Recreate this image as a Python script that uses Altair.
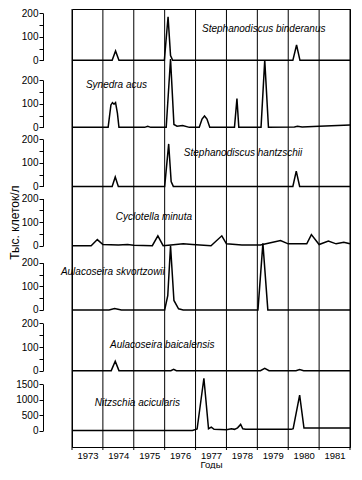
import altair as alt
import pandas as pd

FONT = "Liberation Sans"

# Year boundaries (x grid) and labelled years
YEARS = list(range(1973, 1983))
LABEL_YEARS = list(range(1973, 1982))

# --- Series (years, values in thousand cells / l) ---
binderanus_t = [1973.0, 1974.3, 1974.41, 1974.52, 1975.99, 1976.11, 1976.19, 1976.26, 1980.15, 1980.27, 1980.38, 1982.0]
binderanus_v = [0, 0, 40, 0, 0, 185, 20, 0, 0, 65, 0, 0]

synedra_t = [1973.0, 1974.17, 1974.26, 1974.31, 1974.36, 1974.41, 1974.47, 1974.52, 1975.35, 1975.45, 1975.55,
             1976.05, 1976.19, 1976.3, 1976.4, 1976.58, 1976.8, 1977.12, 1977.21, 1977.29, 1977.37, 1977.46,
             1978.26, 1978.34, 1978.4, 1979.12, 1979.24, 1979.36, 1980.2, 1980.3, 1980.45, 1981.0, 1982.0]
synedra_v = [0, 0, 95, 105, 98, 105, 60, 0, 0, 5, 0,
             0, 290, 12, 5, 8, 0, 0, 35, 48, 35, 0,
             0, 122, 0, 0, 285, 0, 2, 5, 2, 5, 10]

hantzschii_t = [1973.0, 1974.3, 1974.4, 1974.5, 1976.0, 1976.13, 1976.21, 1976.28, 1980.15, 1980.26, 1980.37, 1982.0]
hantzschii_v = [0, 0, 40, 0, 0, 180, 20, 0, 0, 65, 0, 0]

cyclotella_t = [1973.0, 1973.62, 1973.82, 1974.0, 1974.5, 1974.8, 1975.0, 1975.6, 1975.78, 1975.95, 1976.2,
                1976.6, 1976.9, 1977.5, 1977.85, 1978.0, 1978.5, 1979.1, 1979.5, 1979.75, 1980.0, 1980.6,
                1980.75, 1981.0, 1981.3, 1981.55, 1981.8, 1982.0]
cyclotella_v = [0, 0, 26, 5, 3, 5, 2, 0, 42, 0, 3,
                8, 5, 0, 42, 8, 3, 3, 15, 22, 8, 8,
                47, 5, 20, 8, 15, 8]

skvortzowii_t = [1973.0, 1974.2, 1974.38, 1974.6, 1976.0, 1976.1, 1976.19, 1976.3, 1976.45, 1976.6,
                 1979.02, 1979.18, 1979.34, 1982.0]
skvortzowii_v = [0, 0, 6, 0, 0, 60, 272, 40, 5, 0,
                 0, 282, 0, 0]

baicalensis_t = [1973.0, 1974.27, 1974.4, 1974.52, 1976.2, 1976.29, 1976.38, 1979.1, 1979.24, 1979.38,
                 1980.25, 1980.37, 1980.5, 1982.0]
baicalensis_v = [0, 0, 40, 0, 0, 6, 0, 0, 10, 0,
                 0, 5, 0, 0]

nitzschia_t = [1973.0, 1976.9, 1977.05, 1977.27, 1977.42, 1977.51, 1977.6, 1978.0, 1978.16, 1978.26, 1978.36,
               1978.46, 1978.53, 1978.62, 1980.1, 1980.16, 1980.37, 1980.51, 1982.0]
nitzschia_v = [0, 0, 50, 1700, 60, 110, 40, 30, 60, 40, 90,
               200, 60, 40, 40, 60, 1150, 80, 80]

names = ["Stephanodiscus binderanus", "Synedra acus", "Stephanodiscus hantzschii",
         "Cyclotella minuta", "Aulacoseira skvortzowii", "Aulacoseira baicalensis",
         "Nitzschia acicularis"]
series_t = [binderanus_t, synedra_t, hantzschii_t, cyclotella_t, skvortzowii_t, baicalensis_t, nitzschia_t]
series_v = [binderanus_v, synedra_v, hantzschii_v, cyclotella_v, skvortzowii_v, baicalensis_v, nitzschia_v]
y_ticks = [[0, 50, 100, 150, 200]] * 6 + [[0, 500, 1000, 1500]]

# ---- Layout: pixel band of each panel inside one plot area ----
W, H = 278, 438
K = H / 440.0
zero_px = [v * K for v in [51.6, 118.9, 178.2, 237.8, 302.3, 363.3, 423.5]]
band_px = [v * K for v in [47.4] * 6 + [46.4]]
label_pos = [(1977.21, 135), (1973.45, 178), (1976.62, 140), (1974.42, 121),
             (1972.64, 160), (1974.23, 108), (1973.74, 894)]
AXIS_OFFSET = 29
TICK = 3

xscale = alt.Scale(domain=[1973, 1982], nice=False, zero=False)
xaxis = alt.Axis(values=LABEL_YEARS, grid=False, labels=True, format="d",
                 labelOffset=15.44, labelFlush=False, labelOverlap=False,
                 labelFontSize=9.5, labelColor="black", labelPadding=TICK,
                 ticks=False, domain=True, domainColor="black", domainWidth=1,
                 title="Годы", titleFontSize=9.5, titleFontWeight="normal",
                 titleColor="black", titlePadding=0)
X = alt.X("year:Q", scale=xscale, axis=xaxis)

layers = []

# vertical year-boundary lines (grid + small ticks below the frame)
grid_df = pd.DataFrame({"year": YEARS})
layers.append(alt.Chart(grid_df).mark_rule(color="black", strokeWidth=1).encode(
    x=X, y=alt.value(0), y2=alt.value(H + TICK)))

for i in range(7):
    top_val = y_ticks[i][-1]
    yscale = alt.Scale(domain=[0, top_val], range=[zero_px[i], zero_px[i] - band_px[i]],
                       nice=False, zero=False)
    lab_expr = "datum.label" if i == 6 else "datum.value % 100 == 0 ? datum.label : ''"
    if i == 3:
        extra = dict(title="Тыс. клеток/л", titleFontSize=12, titleFontWeight="normal",
                     titleColor="black", titlePadding=0)
    else:
        extra = dict(title=None)
    yaxis = alt.Axis(orient="left", values=y_ticks[i], labelExpr=lab_expr, format="d",
                     offset=AXIS_OFFSET, domain=True, domainColor="black", domainWidth=1,
                     grid=False, ticks=True, tickSize=4, tickColor="black", tickWidth=1,
                     labelFontSize=10, labelColor="black", labelPadding=1, labelOverlap=False,
                     **extra)
    df = pd.DataFrame({"year": series_t[i], "value": series_v[i]})
    layers.append(alt.Chart(df).mark_line(color="black", strokeWidth=1.5, clip=False).encode(
        x=X, y=alt.Y("value:Q", scale=yscale, axis=yaxis)))

    lx, ly = label_pos[i]
    tdf = pd.DataFrame({"year": [lx], "value": [ly], "label": [names[i]]})
    layers.append(alt.Chart(tdf).mark_text(align="left", baseline="middle", fontStyle="italic",
                                           fontSize=10, font=FONT, color="black").encode(
        x=X, y=alt.Y("value:Q", scale=yscale, axis=None), text="label:N"))

chart = alt.layer(*layers).resolve_scale(y="independent").properties(
    width=W, height=H,
    padding={"top": 0, "left": 0, "right": 0, "bottom": 0},
    background="white",
).configure_view(stroke="black", strokeWidth=1).configure_axis(
    labelFont=FONT, titleFont=FONT
)

chart.save("out.html", embed_options={"renderer": "svg", "actions": False})
